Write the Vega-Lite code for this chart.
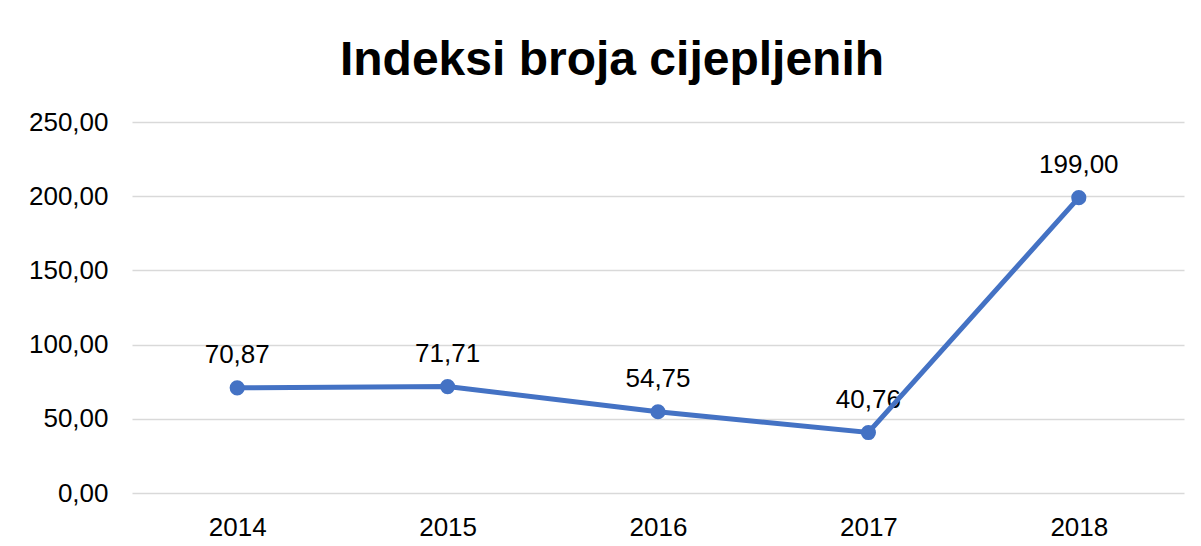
{
  "$schema": "https://vega.github.io/schema/vega-lite/v6.json",
  "width": 1052,
  "height": 371,
  "autosize": {"type": "none"},
  "padding": {"left": 132, "top": 122, "right": 17, "bottom": 53},
  "background": "white",
  "config": {
    "locale": {"number": {"decimal": ",", "thousands": ".", "grouping": [3], "currency": ["", " €"]}},
    "view": {"stroke": null},
    "font": "Liberation Sans"
  },
  "title": {
    "text": "Indeksi broja cijepljenih",
    "font": "Liberation Sans",
    "fontSize": 48,
    "fontWeight": "bold",
    "color": "#000000",
    "anchor": "middle",
    "frame": "group",
    "baseline": "alphabetic",
    "offset": -14,
    "dx": -46
  },
  "data": {
    "values": [
      {"year": "2014", "value": 70.87},
      {"year": "2015", "value": 71.71},
      {"year": "2016", "value": 54.75},
      {"year": "2017", "value": 40.76},
      {"year": "2018", "value": 199.0}
    ]
  },
  "encoding": {
    "x": {
      "field": "year",
      "type": "ordinal",
      "scale": {"type": "point", "padding": 0.5},
      "axis": {
        "title": null,
        "labelAngle": 0,
        "ticks": false,
        "domain": false,
        "labelFont": "Liberation Sans",
        "labelFontSize": 26,
        "labelColor": "#000000",
        "labelPadding": 21
      }
    },
    "y": {
      "field": "value",
      "type": "quantitative",
      "scale": {"domain": [0, 250], "nice": false},
      "axis": {
        "title": null,
        "values": [0, 50, 100, 150, 200, 250],
        "format": ".2f",
        "ticks": false,
        "domain": false,
        "grid": true,
        "gridColor": "#d9d9d9",
        "gridWidth": 1.3,
        "labelFont": "Liberation Sans",
        "labelFontSize": 26,
        "labelColor": "#000000",
        "labelPadding": 24
      }
    }
  },
  "layer": [
    {
      "mark": {"type": "text", "dy": -25, "baseline": "alphabetic", "align": "center", "fontSize": 26, "font": "Liberation Sans", "color": "#000000"},
      "encoding": {"text": {"field": "value", "type": "quantitative", "format": ".2f"}}
    },
    {
      "mark": {"type": "line", "color": "#4472C4", "strokeWidth": 5},
      "encoding": {}
    },
    {
      "mark": {"type": "point", "shape": "circle", "filled": true, "opacity": 1, "color": "#4472C4", "size": 230},
      "encoding": {}
    }
  ]
}
